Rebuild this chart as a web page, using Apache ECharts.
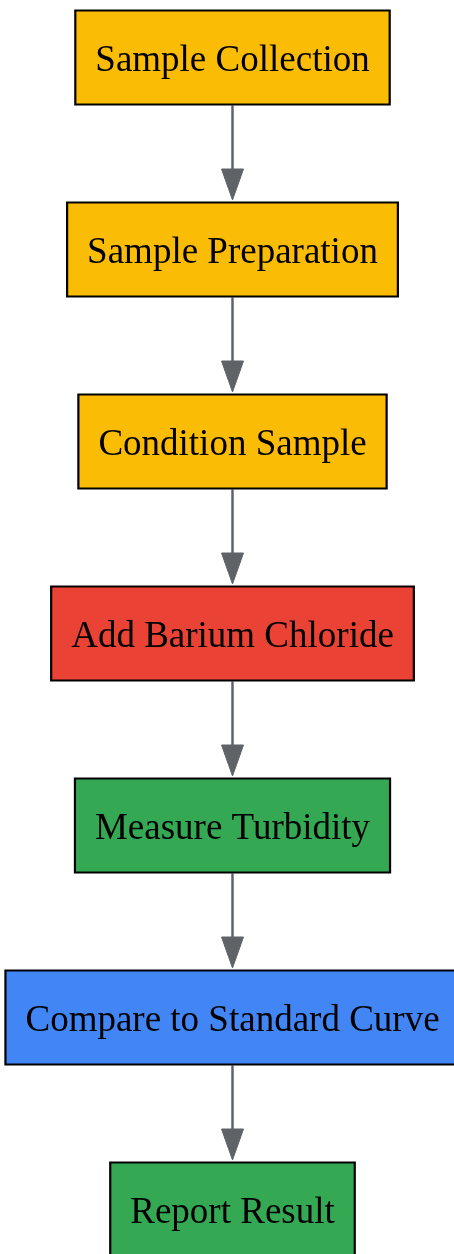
<!DOCTYPE html>
<html>
<head>
<meta charset="utf-8">
<script src="https://cdn.jsdelivr.net/npm/echarts@6/dist/echarts.min.js"></script>
<style>
html,body{margin:0;padding:0;background:#fff;}
#chart{width:454px;height:1254px;}
</style>
</head>
<body>
<div id="chart"></div>
<script>
// Flow steps (top to bottom)
const steps = [
  'Sample Collection',
  'Sample Preparation',
  'Condition Sample',
  'Add Barium Chloride',
  'Measure Turbidity',
  'Compare to Standard Curve',
  'Report Result'
];
const stepColors = ['#FBBC05', '#FBBC05', '#FBBC05', '#EA4335', '#34A853', '#4285F4', '#34A853'];
// Edges: [from, to]
const edges = [[0,1],[1,2],[2,3],[3,4],[4,5],[5,6]];

const FONT_SIZE = 37;
const FONT = FONT_SIZE + 'px "Liberation Serif", "Times New Roman", serif';
const PAD_X = 20;
const BOX_H = 94;
const ARROW_LEN = 31;
const ARROW_W = 22;

const measureCtx = document.createElement('canvas').getContext('2d');
measureCtx.font = FONT;
function textW(t){ return measureCtx.measureText(t).width; }

const chart = echarts.init(document.getElementById('chart'));
chart.setOption({
  animation: false,
  grid: {left: 11, right: 0, top: 57.5, bottom: 44.5},
  xAxis: {type: 'value', min: -1, max: 1, show: false},
  yAxis: {type: 'value', min: 0, max: steps.length - 1, inverse: true, show: false},
  series: [
    {
      type: 'custom',
      name: 'arrows',
      data: edges.map(e => [0, e[0], 0, e[1]]),
      renderItem: function(params, api){
        const p1 = api.coord([api.value(0), api.value(1)]);
        const p2 = api.coord([api.value(2), api.value(3)]);
        const y0 = p1[1] + BOX_H / 2 + 1;
        const tip = p2[1] - BOX_H / 2 - 2.5;
        const base = tip - ARROW_LEN;
        return {
          type: 'group',
          children: [
            {type: 'line', shape: {x1: p1[0], y1: y0, x2: p1[0], y2: base + 2},
              style: {stroke: '#5f6368', lineWidth: 2.5}},
            {type: 'polygon', shape: {points: [[p2[0] - ARROW_W/2, base], [p2[0] + ARROW_W/2, base], [p2[0], tip]]},
              style: {fill: '#5f6368', stroke: '#5f6368', lineWidth: 1}}
          ]
        };
      }
    },
    {
      type: 'custom',
      name: 'steps',
      data: steps.map((s, i) => [0, i]),
      renderItem: function(params, api){
        const i = params.dataIndex;
        const p = api.coord([api.value(0), api.value(1)]);
        const w = textW(steps[i]) + PAD_X * 2;
        return {
          type: 'group',
          children: [
            {type: 'rect', shape: {x: p[0] - w/2, y: p[1] - BOX_H/2, width: w, height: BOX_H},
              style: {fill: stepColors[i], stroke: '#000', lineWidth: 2.2}},
            {type: 'text', style: {text: steps[i], x: p[0], y: p[1] + 4, align: 'center', verticalAlign: 'middle',
              font: FONT, fill: '#000'}}
          ]
        };
      }
    }
  ]
});
</script>
</body>
</html>
